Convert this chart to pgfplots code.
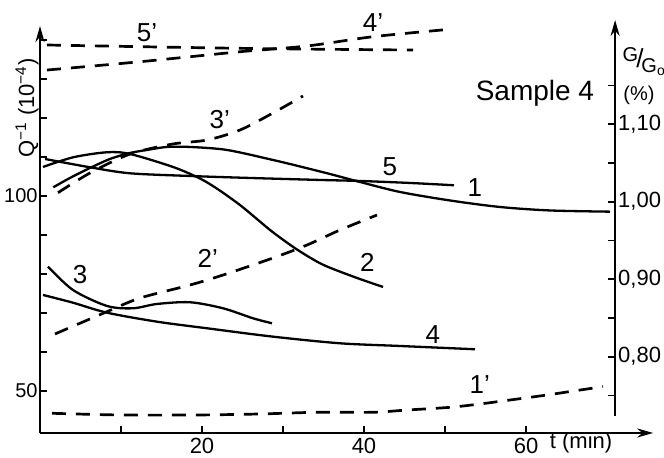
\documentclass[border=0pt]{standalone}
\usepackage{fontspec}
\setmainfont{Liberation Sans}
\usepackage{pgfplots}
\pgfplotsset{compat=1.18}
\usetikzlibrary{arrows.meta}
\begin{document}
\begin{tikzpicture}
\path[use as bounding box] (-20pt,-12.5pt) rectangle (312pt,216.5pt);
% ---------- left axis: Q^-1 ----------
\begin{axis}[
  at={(0pt,0pt)}, anchor=south west,
  x=4.05pt, y=1.95pt,
  xmin=0, xmax=75.7, ymin=39.15, ymax=143.5,
  axis x line=bottom, axis y line=left,
  axis line style={line width=1.2pt, -{Stealth[length=8pt,width=4.5pt]}},
  xtick={20,40,60}, xticklabels={20,40,60},
  minor xtick={10,30,50},
  ytick={50,100}, yticklabels={50,100},
  minor ytick={60,70,80,90,110,120,130,140},
  tick align=inside,
  major tick length=3.5pt, minor tick length=3.5pt,
  every tick/.style={line width=0.9pt, black},
  minor tick style={line width=0.9pt, black},
  xticklabel style={font=\fontsize{11}{12}\selectfont, yshift=1pt},
  yticklabel style={font=\fontsize{10}{12}\selectfont, inner xsep=1pt},
  clip=false,
]
% curve 5 (flat line)
\addplot[black, line width=1.15pt, smooth, mark=none] coordinates {
(0.62,109.41) (6.17,107.28) (11.11,105.74) (18.52,105.05) (25.93,104.54)
(34.57,104.03) (39.51,103.77) (45.68,103.26) (51.11,102.67)};
% curve 1 (long)
\addplot[black, line width=1.15pt, smooth, mark=none] coordinates {
(1.64,102.15) (3.70,104.54) (6.17,107.10) (8.64,109.41) (11.11,110.95)
(13.58,111.85) (15.68,112.49) (18.52,112.49) (23.09,111.72) (28.77,109.15)
(32.10,107.49) (35.80,105.56) (39.51,103.51) (44.44,100.95) (50.62,98.77)
(56.79,97.10) (62.96,96.21) (70.37,95.90)};
% curve 2
\addplot[black, line width=1.15pt, smooth, mark=none] coordinates {
(0.37,107.36) (4.11,109.85) (8.27,111.13) (11.11,110.69) (16.42,107.36)
(19.75,104.40) (22.00,101.60) (24.69,97.60) (26.79,94.00) (28.77,90.60)
(31.73,86.20) (34.94,82.30) (39.14,78.90) (42.35,76.60)};
% curve 3
\addplot[black, line width=1.15pt, smooth, mark=none] coordinates {
(0.99,81.79) (4.07,75.82) (8.27,71.72) (11.48,71.13) (14.44,72.23)
(18.52,72.67) (22.59,71.13) (26.30,68.56) (28.64,67.28)};
% curve 4
\addplot[black, line width=1.15pt, smooth, mark=none] coordinates {
(0.37,74.54) (4.07,72.56) (8.27,70.00) (14.44,67.69) (20.62,66.00)
(28.77,63.85) (37.04,62.15) (44.44,61.46) (53.70,60.62)};
% labels
\node[font=\fontsize{13}{14}\selectfont] at (axis cs:13.2,141.7) {5'};
\node[font=\fontsize{13}{14}\selectfont] at (axis cs:41.1,144.3) {4'};
\node[font=\fontsize{13}{14}\selectfont] at (axis cs:22.2,119.4) {3'};
\node[font=\fontsize{14}{16}\selectfont] at (axis cs:61.1,126.3) {Sample 4};
\node[font=\fontsize{13}{14}\selectfont] at (axis cs:43.2,107.4) {5};
\node[font=\fontsize{13}{14}\selectfont] at (axis cs:53.7,102.0) {1};
\node[font=\fontsize{13}{14}\selectfont] at (axis cs:40.4,83.0) {2};
\node[font=\fontsize{13}{14}\selectfont] at (axis cs:20.7,84.0) {2'};
\node[font=\fontsize{13}{14}\selectfont] at (axis cs:4.94,79.7) {3};
\node[font=\fontsize{13}{14}\selectfont] at (axis cs:48.5,64.3) {4};
\node[font=\fontsize{13}{14}\selectfont] at (axis cs:54.3,51.5) {1'};
\node[font=\fontsize{11}{12}\selectfont] at (axis cs:66.8,36.6) {t (min)};
\node[font=\fontsize{11}{12}\selectfont, rotate=90] at (axis cs:-1.6,122.5)
  {Q\textsuperscript{−1} (10\textsuperscript{−4})};
\node[font=\fontsize{10}{12}\selectfont, inner sep=0pt] at (axis cs:74.6,134.5)
  {\raisebox{3pt}{G}\kern-1pt{\fontsize{13}{14}\selectfont/}\kern-1pt\raisebox{-2.5pt}{G\textsubscript{o}}};
\node[font=\fontsize{10}{12}\selectfont, inner sep=0pt] at (axis cs:73.95,125.8) {(\%)};
\end{axis}
% ---------- right axis: G/G0 ----------
\begin{axis}[
  at={(0pt,8.5pt)}, anchor=south west,
  x=4.05pt, y=387.5pt,
  xmin=0, xmax=71, ymin=0.7235, ymax=1.2345,
  axis x line=none, axis y line=right,
  axis line style={line width=1.2pt, -{Stealth[length=8pt,width=4.5pt]}},
  ytick={0.8,0.9,1.0,1.1}, yticklabels={{0,80},{0,90},{1,00},{1,10}},
  minor ytick={0.75,0.85,0.95,1.05,1.15},
  tick align=inside,
  major tick length=3.5pt, minor tick length=3.5pt,
  every tick/.style={line width=0.9pt, black},
  minor tick style={line width=0.9pt, black},
  tick label style={font=\fontsize{11}{12}\selectfont},
  yticklabel style={xshift=-2pt},
  clip=false,
]
% 1'
\addplot[black, line width=1.35pt, dash pattern=on 7pt off 5pt, smooth, mark=none] coordinates {
(1.48,0.7270) (9.88,0.7248) (19.38,0.7248) (27.16,0.7261) (34.20,0.7283)
(41.11,0.7283) (45.31,0.7312) (50.62,0.7347) (54.32,0.7390) (58.02,0.7441)
(62.59,0.7506) (66.67,0.7570) (69.51,0.7613)};
% 2'
\addplot[black, line width=1.35pt, dash pattern=on 7pt off 5pt, smooth, mark=none] coordinates {
(1.85,0.8293) (8.27,0.8581) (12.35,0.8757) (18.52,0.8925) (22.59,0.9054)
(28.77,0.9274) (32.96,0.9441) (37.04,0.9635) (41.60,0.9828)};
% 3'
\addplot[black, line width=1.35pt, dash pattern=on 7pt off 5pt, smooth, mark=none] coordinates {
(2.22,1.0116) (6.17,1.0370) (11.11,1.0615) (16.42,1.0745) (20.62,1.0796)
(24.69,1.0925) (28.77,1.1145) (32.47,1.1364)};
% 4'
\addplot[black, line width=1.35pt, dash pattern=on 7pt off 5pt, smooth, mark=none] coordinates {
(0.86,1.1699) (12.35,1.1806) (24.69,1.1935) (32.96,1.2009) (41.11,1.2129) (50.62,1.2225)};
% 5'
\addplot[black, line width=1.35pt, dash pattern=on 7pt off 5pt, smooth, mark=none] coordinates {
(0.86,1.2022) (24.69,1.1979) (46.05,1.1957)};
\end{axis}
\end{tikzpicture}
\end{document}
